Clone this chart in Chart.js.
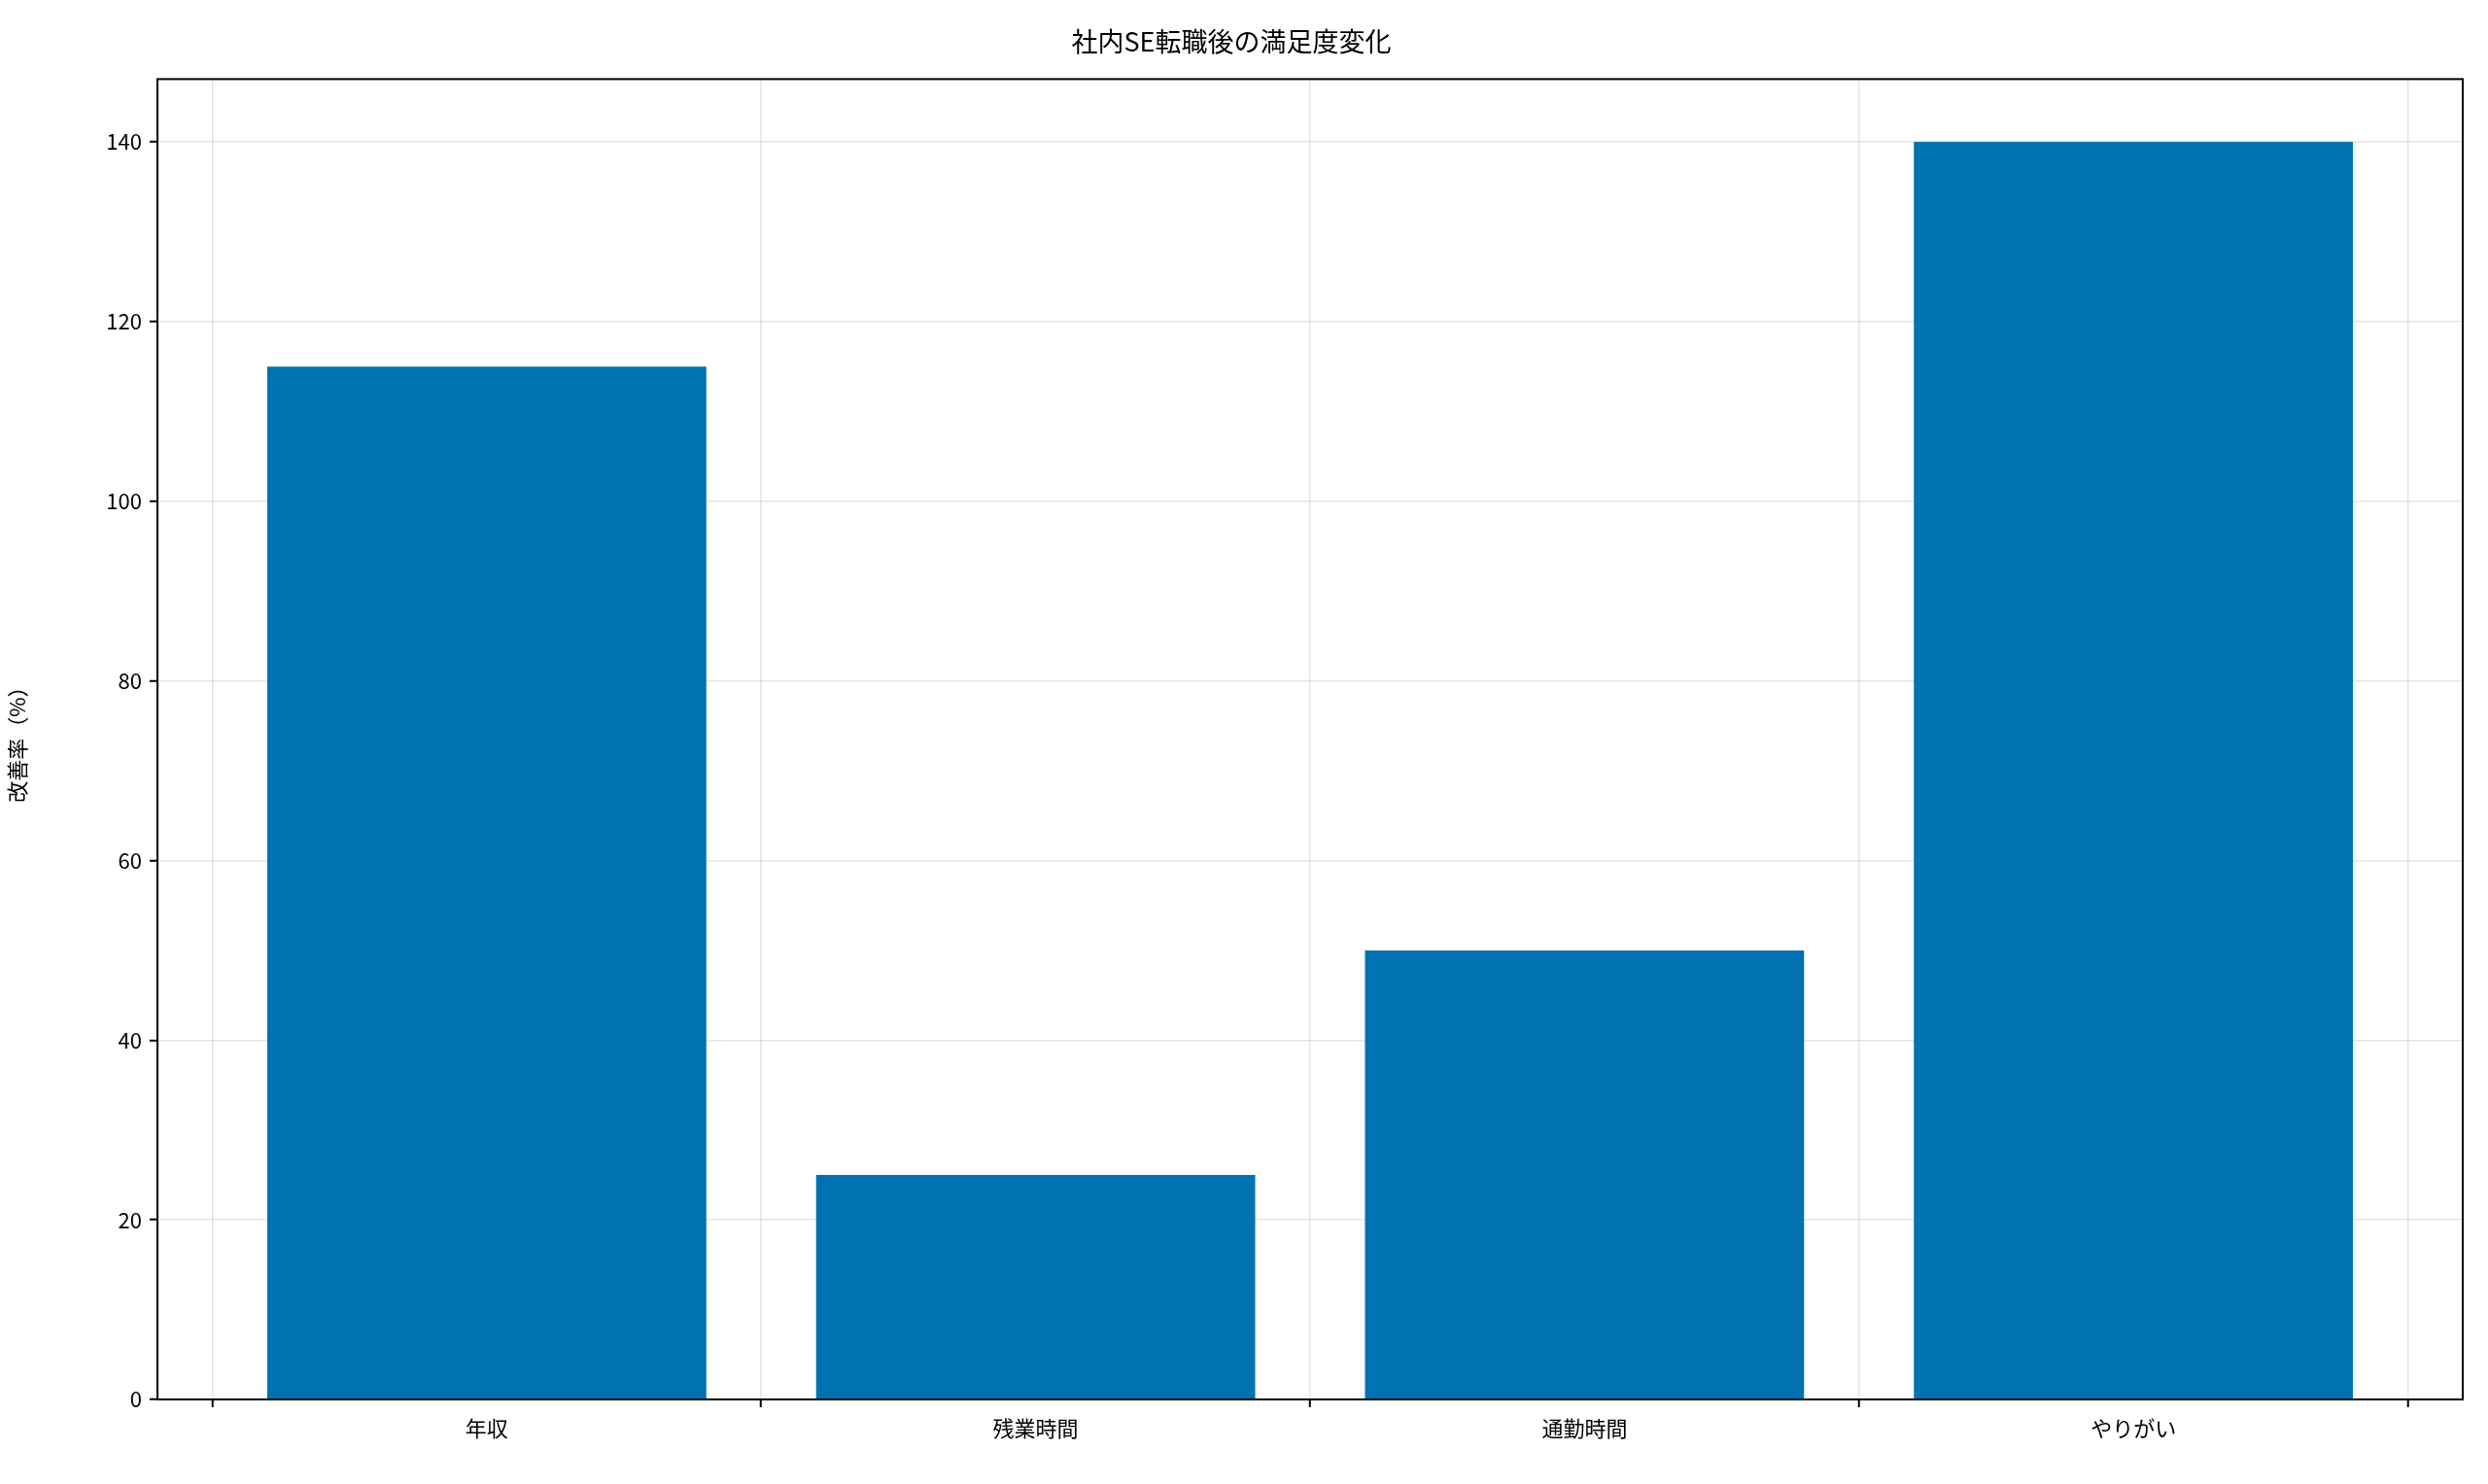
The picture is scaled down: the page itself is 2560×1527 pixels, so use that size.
<!DOCTYPE html>
<html><head><meta charset="utf-8">
<script src="https://cdn.jsdelivr.net/npm/chart.js@4"></script>
<style>html,body{margin:0;padding:0;background:#fff}#w{width:2560px;height:1527px}</style>
</head><body><div id="w"><canvas id="c"></canvas></div>
<script>
const categories = ["年収","残業時間","通勤時間","やりがい"];
const values = [115, 25, 50, 140];
const yTicks = [0,20,40,60,80,100,120,140];
const FONT = "'Noto Sans CJK JP', 'Noto Sans', sans-serif";
const frame = {id:'frame', afterDraw(c){const a=c.chartArea,x=c.ctx;x.save();x.strokeStyle='#000';x.lineWidth=2;x.strokeRect(a.left,a.top,a.right-a.left,a.bottom-a.top);x.restore();}};
new Chart(document.getElementById('c'), {
  type:'bar',
  data:{datasets:[{data:values.map((v,i)=>({x:i,y:v})),backgroundColor:'#0072B2',barPercentage:0.8,categoryPercentage:1}]},
  options:{
    responsive:true, maintainAspectRatio:false, animation:false,
    layout:{padding:{left:0,right:26,top:0,bottom:0}},
    plugins:{legend:{display:false},tooltip:{enabled:false},
      title:{display:true,text:'社内SE転職後の満足度変化',color:'#000',font:{family:FONT,size:27,weight:'normal'},padding:{top:27,bottom:22}}},
    scales:{
      x:{type:'linear',min:-0.6,max:3.6,offset:false,
        afterBuildTicks:s=>{s.ticks=categories.map((_,i)=>({value:i}));},
        afterFit:s=>{s.height=87;},
        ticks:{callback:v=>categories[v]??'',color:'#000',font:{family:FONT,size:22},padding:8},
        grid:{color:'rgba(0,0,0,0.1)',lineWidth:1.5,borderDash:[8,6],tickBorderDash:[],tickColor:'#000',tickLength:8,tickWidth:2},
        border:{display:false}},
      y:{min:0,max:147,
        afterBuildTicks:s=>{s.ticks=yTicks.map(v=>({value:v}));},
        afterFit:s=>{s.width=162;},
        ticks:{color:'#000',font:{family:FONT,size:22},padding:8},
        title:{display:true,text:'改善率（%）',color:'#000',font:{family:FONT,size:22},padding:{bottom:10}},
        grid:{color:'rgba(0,0,0,0.1)',lineWidth:1.5,borderDash:[8,6],tickBorderDash:[],tickColor:'#000',tickLength:8,tickWidth:2},
        border:{display:false}}
    }
  },
  plugins:[frame]
});
</script></body></html>
